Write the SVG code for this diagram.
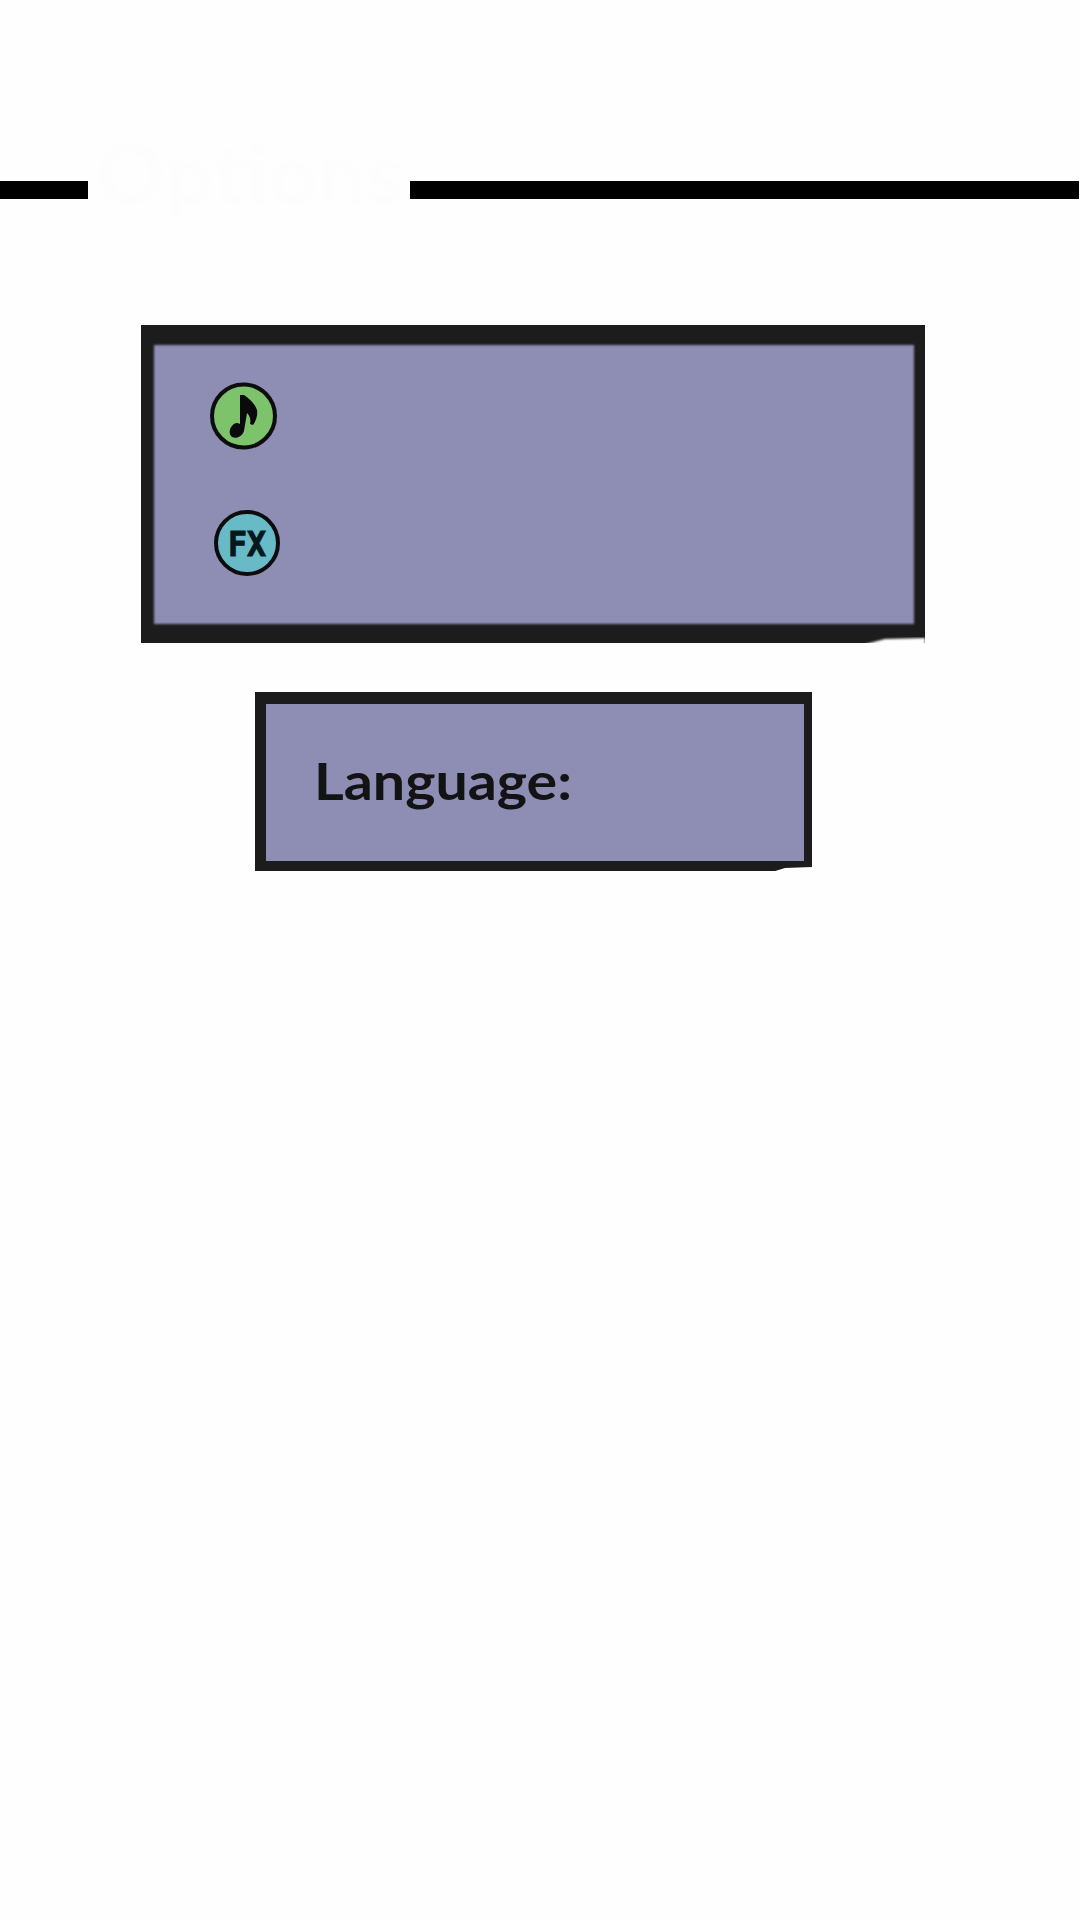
<svg xmlns="http://www.w3.org/2000/svg" width="1080" height="1920" viewBox="0 0 1080 1920">
<defs>
<style>
.frame{fill:#1a1a1c}
.inner{fill:#8e8db3}
.bar{fill:#000}
.ring{stroke:#0c0c0e;stroke-width:4}
.label{font-family:"Lato","Liberation Sans",sans-serif;font-weight:700;fill:#131315}
</style>
<filter id="soft" x="-5%" y="-5%" width="110%" height="110%"><feGaussianBlur stdDeviation="1.2"/></filter>
<filter id="softer" x="-5%" y="-5%" width="110%" height="110%"><feGaussianBlur stdDeviation="0.7"/></filter>
</defs>
<rect width="1080" height="1920" fill="#fefefe"/>
<g id="title">
<rect class="bar" x="0" y="181" width="88" height="18" filter="url(#softer)"/>
<rect class="bar" x="410" y="181" width="669" height="18" filter="url(#softer)"/>
<text x="96" y="204" font-family="Lato,'Liberation Sans',sans-serif" font-size="82" font-weight="700" fill="#fdfdfd" textLength="308" lengthAdjust="spacingAndGlyphs">Options</text>
</g>
<g id="panel-audio">
<rect class="frame" x="141" y="325" width="784" height="318" filter="url(#softer)"/>
<rect class="inner" x="154" y="345" width="760" height="279" filter="url(#soft)"/>
<path d="M866 644L885 639L925 638V645H866Z" fill="#fefefe" filter="url(#soft)"/>
</g>
<g id="music-icon">
<circle class="ring" cx="243.500" cy="416" r="31.500" fill="#7dc36c" filter="url(#softer)"/>
<path d="M240 395L244 395C250 399 255 404 257 410C258 415 256 421 253 425L250 424C251 420 250 416 247 413L244 431C242 437 236 439 232 437C228 434 230 428 232 426C234 423 237 422 240 424Z" fill="#0a0a0c"/>
</g>
<g id="fx-icon">
<circle class="ring" cx="247" cy="543" r="31" fill="#68bac6"/>
<text x="228" y="556" font-family="'DejaVu Sans Mono','Liberation Mono',monospace" font-weight="700" font-size="34" fill="#07181c" stroke="#07181c" stroke-width="1" textLength="38" lengthAdjust="spacingAndGlyphs">FX</text>
</g>
<g id="panel-language">
<rect class="frame" x="255" y="692" width="557" height="179" filter="url(#softer)"/>
<rect class="inner" x="266" y="704" width="538" height="157" filter="url(#softer)"/>
<path d="M772 872L785 868L812 867V873H772Z" fill="#fefefe" filter="url(#softer)"/>
<text class="label" x="314" y="800" font-size="52" textLength="258" lengthAdjust="spacingAndGlyphs">Language:</text>
</g>
<g id="connectors"/>
</svg>
